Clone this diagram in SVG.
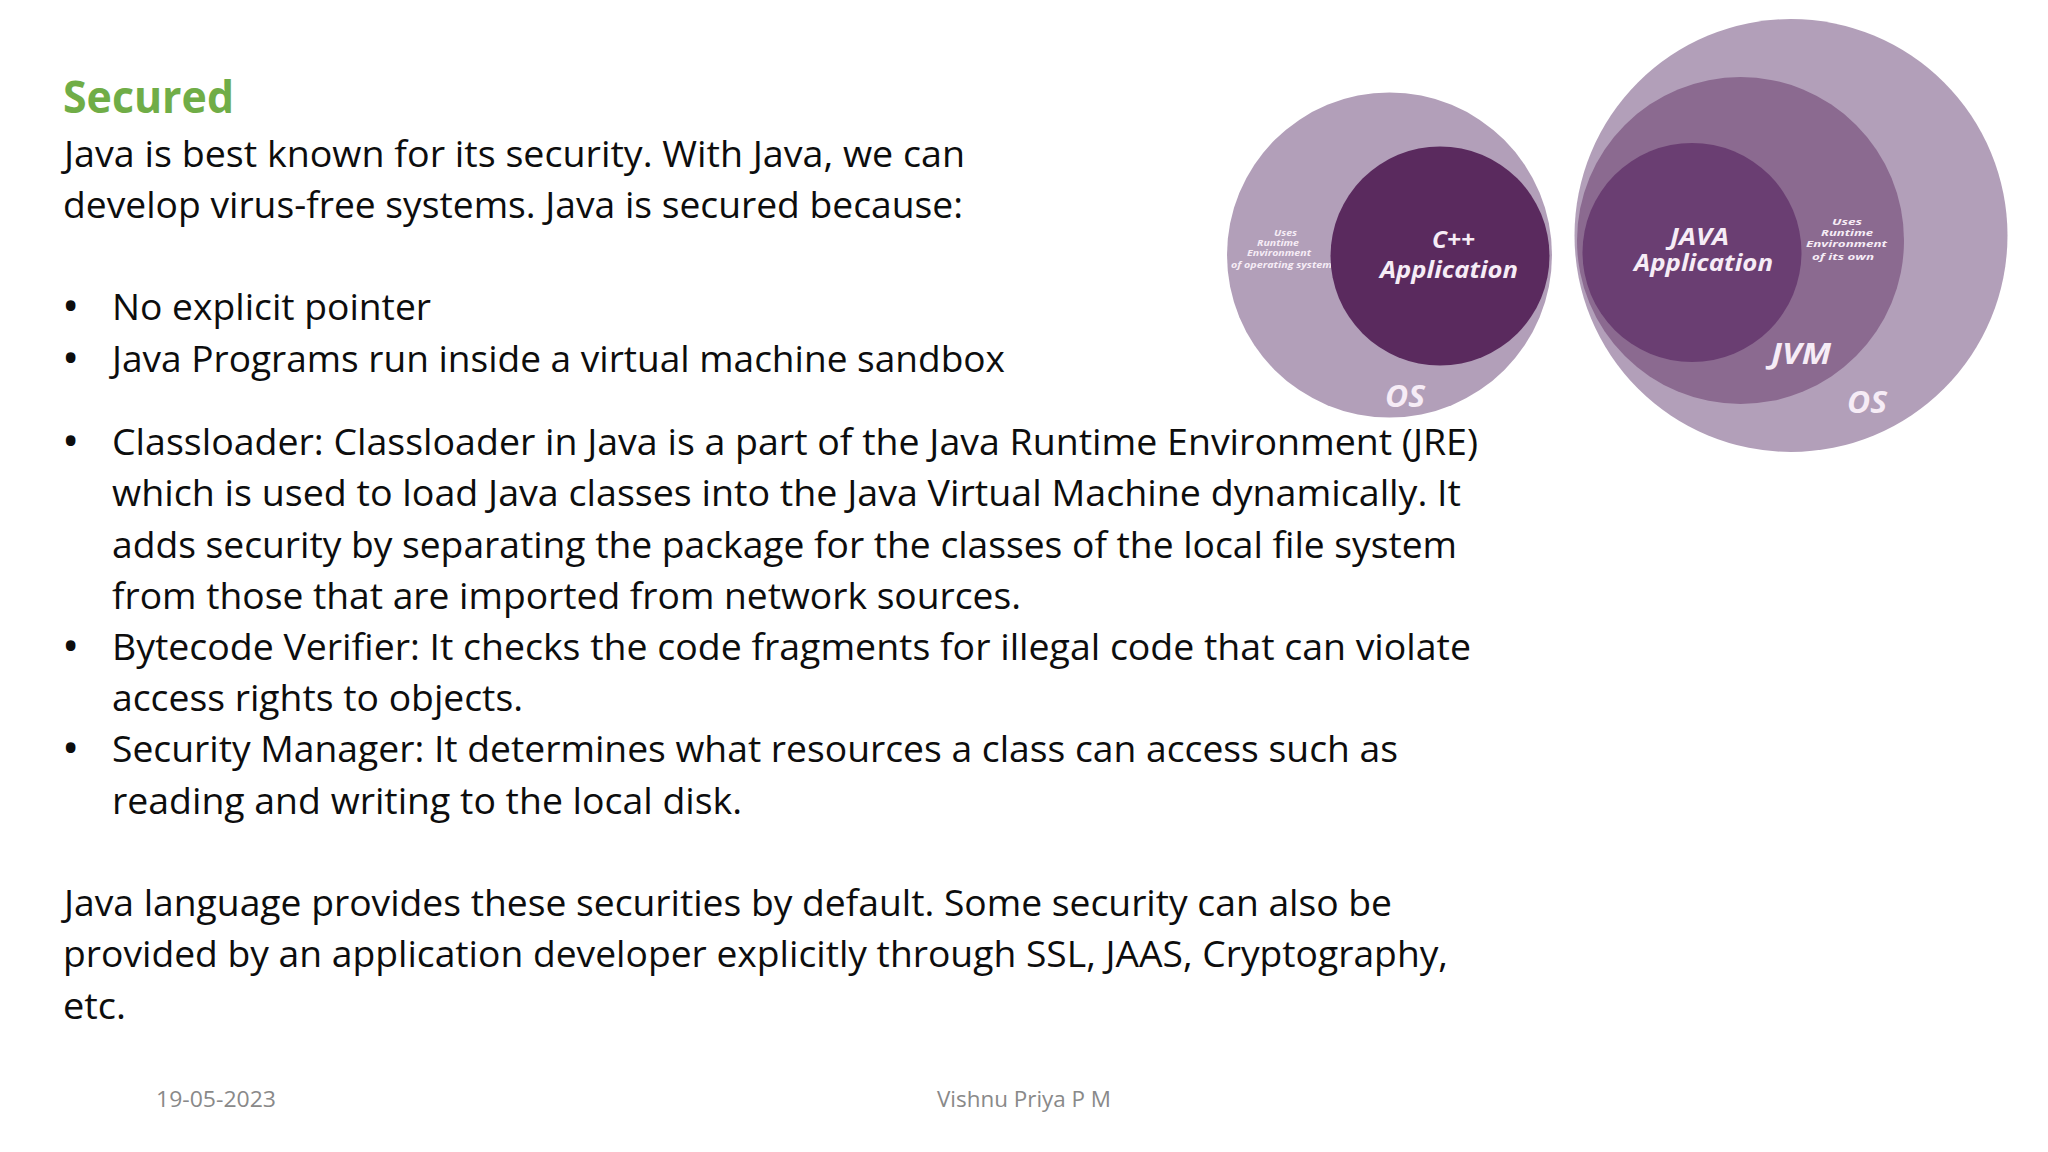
<svg xmlns="http://www.w3.org/2000/svg" width="2048" height="1152" viewBox="0 0 2048 1152">
<style>
.b{font-family:"Open Sans","Noto Sans",sans-serif;font-size:36.500px;fill:#0d0d0d}
.d{font-family:"Open Sans","Noto Sans",sans-serif;font-size:46px;fill:#0d0d0d}
.h{font-family:"Open Sans","Noto Sans",sans-serif;font-size:44px;font-weight:700;fill:#70ad47}
.f{font-family:"Open Sans","Noto Sans",sans-serif;font-size:22.500px;fill:#898989}
.l{font-family:"Open Sans","Noto Sans",sans-serif;font-style:italic;font-weight:700;fill:#f6ecf6}
.os{fill:#b29fb9}
</style>
<rect width="2048" height="1152" fill="#ffffff"/>
<g id="title"><text class="h" x="63" y="113" textLength="171" lengthAdjust="spacingAndGlyphs">Secured</text></g>
<g id="body">
<text class="b" x="64" y="167" textLength="901" lengthAdjust="spacingAndGlyphs">Java is best known for its security. With Java, we can</text>
<text class="b" x="63" y="218" textLength="900" lengthAdjust="spacingAndGlyphs">develop virus-free systems. Java is secured because:</text>
<text class="d" x="62" y="322">•</text>
<text class="b" x="112" y="320" textLength="319" lengthAdjust="spacingAndGlyphs">No explicit pointer</text>
<text class="d" x="62" y="373.500">•</text>
<text class="b" x="112" y="371.500" textLength="893" lengthAdjust="spacingAndGlyphs">Java Programs run inside a virtual machine sandbox</text>
<text class="d" x="62" y="456.500">•</text>
<text class="b" x="112" y="455" textLength="1366" lengthAdjust="spacingAndGlyphs">Classloader: Classloader in Java is a part of the Java Runtime Environment (JRE)</text>
<text class="b" x="112" y="506" textLength="1349" lengthAdjust="spacingAndGlyphs">which is used to load Java classes into the Java Virtual Machine dynamically. It</text>
<text class="b" x="112" y="557.500" textLength="1345" lengthAdjust="spacingAndGlyphs">adds security by separating the package for the classes of the local file system</text>
<text class="b" x="112" y="608.500" textLength="909" lengthAdjust="spacingAndGlyphs">from those that are imported from network sources.</text>
<text class="d" x="62" y="661.500">•</text>
<text class="b" x="112" y="660" textLength="1359" lengthAdjust="spacingAndGlyphs">Bytecode Verifier: It checks the code fragments for illegal code that can violate</text>
<text class="b" x="112" y="711" textLength="411" lengthAdjust="spacingAndGlyphs">access rights to objects.</text>
<text class="d" x="62" y="763.500">•</text>
<text class="b" x="112" y="762" textLength="1286" lengthAdjust="spacingAndGlyphs">Security Manager: It determines what resources a class can access such as</text>
<text class="b" x="112" y="813.500" textLength="630" lengthAdjust="spacingAndGlyphs">reading and writing to the local disk.</text>
<text class="b" x="64" y="916" textLength="1328" lengthAdjust="spacingAndGlyphs">Java language provides these securities by default. Some security can also be</text>
<text class="b" x="63" y="967" textLength="1385" lengthAdjust="spacingAndGlyphs">provided by an application developer explicitly through SSL, JAAS, Cryptography,</text>
<text class="b" x="63" y="1018.500" textLength="63" lengthAdjust="spacingAndGlyphs">etc.</text>
</g>
<g id="footer">
<text class="f" x="156" y="1107" textLength="120" lengthAdjust="spacingAndGlyphs">19-05-2023</text>
<text class="f" x="937" y="1107" textLength="174" lengthAdjust="spacingAndGlyphs">Vishnu Priya P M</text>
</g>
<g id="cpp-os">
<circle class="os" cx="1389.500" cy="255" r="162.500"/>
<text class="l" font-size="8" x="1274" y="236" textLength="23" lengthAdjust="spacingAndGlyphs">Uses</text>
<text class="l" font-size="8" x="1257" y="246" textLength="42" lengthAdjust="spacingAndGlyphs">Runtime</text>
<text class="l" font-size="8" x="1247" y="256" textLength="64" lengthAdjust="spacingAndGlyphs">Environment</text>
<text class="l" font-size="8" x="1231" y="268" textLength="101" lengthAdjust="spacingAndGlyphs">of operating system</text>
<text class="l" font-size="30" x="1385" y="407" textLength="40" lengthAdjust="spacingAndGlyphs">OS</text>
</g>
<g id="cpp-application">
<circle cx="1440" cy="256" r="109.500" fill="#5a2a5e"/>
<text class="l" font-size="24" x="1432" y="248" textLength="43" lengthAdjust="spacingAndGlyphs">C++</text>
<text class="l" font-size="24" x="1380" y="278" textLength="138" lengthAdjust="spacingAndGlyphs">Application</text>
</g>
<g id="java-os">
<circle class="os" cx="1791" cy="235.500" r="216.500"/>
<text class="l" font-size="30" x="1847" y="413" textLength="40" lengthAdjust="spacingAndGlyphs">OS</text>
</g>
<g id="jvm">
<circle cx="1740.500" cy="240.500" r="163.500" fill="#8b6a90"/>
<text class="l" font-size="8.500" x="1832" y="225" textLength="30" lengthAdjust="spacingAndGlyphs">Uses</text>
<text class="l" font-size="8.500" x="1821" y="236" textLength="52" lengthAdjust="spacingAndGlyphs">Runtime</text>
<text class="l" font-size="8.500" x="1806" y="247" textLength="81" lengthAdjust="spacingAndGlyphs">Environment</text>
<text class="l" font-size="8.500" x="1812" y="260" textLength="62" lengthAdjust="spacingAndGlyphs">of its own</text>
<text class="l" font-size="28" x="1771" y="364" textLength="60" lengthAdjust="spacingAndGlyphs">JVM</text>
</g>
<g id="java-application">
<circle cx="1692" cy="252.500" r="109.500" fill="#6a3e72"/>
<text class="l" font-size="24" x="1670" y="245" textLength="59" lengthAdjust="spacingAndGlyphs">JAVA</text>
<text class="l" font-size="24" x="1634" y="271" textLength="139" lengthAdjust="spacingAndGlyphs">Application</text>
</g>
</svg>
